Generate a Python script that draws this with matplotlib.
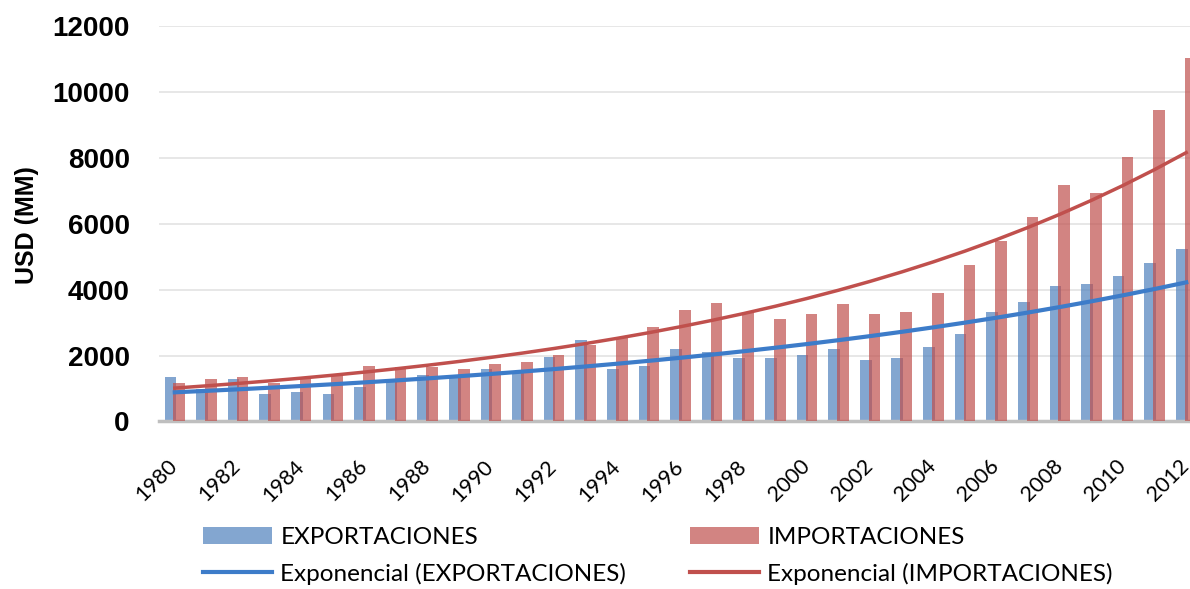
import numpy as np
import matplotlib
matplotlib.use("Agg")
import matplotlib.pyplot as plt
from matplotlib.patches import Patch
from matplotlib.lines import Line2D

years = list(range(1980, 2013))
exportaciones = [1339, 976, 1279, 833, 903, 833, 1054, 1206, 1409, 1358, 1582,
                 1460, 1964, 2470, 1582, 1682, 2197, 2097, 1915, 1915, 2024,
                 2197, 1864, 1915, 2257, 2642, 3327, 3612, 4115, 4176, 4400,
                 4803, 5248]
importaciones = [1176, 1279, 1339, 1157, 1309, 1409, 1682, 1650, 1642, 1582, 1742,
                 1812, 2015, 2318, 2551, 2873, 3378, 3600, 3297, 3097, 3267,
                 3551, 3267, 3327, 3885, 4733, 5490, 6218, 7176, 6945, 8024,
                 9448, 11023]
tick_years = years[::2]

BLUE = '#4F81BD'
RED = '#C0504D'
TREND_BLUE = '#3D7CC9'
txt_font = ['Lato', 'DejaVu Sans']

fig = plt.figure(figsize=(11.9, 5.89), dpi=100)
ax = fig.add_axes([0.1336, 0.2844, 0.8765, 0.6715])

x = np.arange(len(years))
ax.bar(x - 0.14, exportaciones, width=0.37, color=BLUE, alpha=0.7, zorder=2)
ax.bar(x + 0.14, importaciones, width=0.37, color=RED, alpha=0.7, zorder=3)

# exponential trendlines (least squares on log values, like Excel)
xt = x + 1
for vals, col, lw in [(exportaciones, TREND_BLUE, 3.0), (importaciones, RED, 2.5)]:
    b, a = np.polyfit(xt, np.log(vals), 1)
    ax.plot(x, np.exp(a + b * xt), color=col, linewidth=lw, zorder=4)

ax.set_xlim(-0.5, len(years) - 0.5)
ax.set_ylim(0, 12000)
ax.set_yticks(range(0, 12001, 2000))
ax.set_yticklabels([str(v) for v in range(0, 12001, 2000)],
                   fontsize=20, fontweight='bold', family='Liberation Sans')
# rotated labels anchored at their baseline end
ax.set_xticks([years.index(y) + 0.12 for y in tick_years])
ax.set_xticklabels([str(y) for y in tick_years], rotation=45, ha='right',
                   va='baseline', rotation_mode='anchor', fontsize=15.5,
                   family=txt_font)
ax.tick_params(axis='both', length=0)
ax.tick_params(axis='y', pad=21)
ax.tick_params(axis='x', pad=33)
ax.grid(axis='y', color='#E3E3E3', linewidth=1.2, zorder=0)
ax.set_axisbelow(True)
for s in ['top', 'right', 'left']:
    ax.spines[s].set_visible(False)
ax.spines['bottom'].set_color('#BFBFBF')
ax.spines['bottom'].set_linewidth(2.5)

fig.text(0.023, 0.618, 'USD (MM)', rotation=90, ha='center', va='center',
         fontsize=18, fontweight='bold', family='Liberation Sans')

# two legend columns placed separately
leg_kw = dict(loc='center left', frameon=False, prop={'family': txt_font, 'size': 17.5},
              handlelength=2.85, handleheight=0.7, handletextpad=0.33,
              labelspacing=0.6, borderpad=0, borderaxespad=0)
leg1 = fig.legend([Patch(facecolor=BLUE, alpha=0.7), Line2D([], [], color=TREND_BLUE, linewidth=3)],
                  ['EXPORTACIONES', 'Exponencial (EXPORTACIONES)'],
                  bbox_to_anchor=(203 / 1190, 1 - 556 / 589), **leg_kw)
leg2 = fig.legend([Patch(facecolor=RED, alpha=0.7), Line2D([], [], color=RED, linewidth=3)],
                  ['IMPORTACIONES', 'Exponencial (IMPORTACIONES)'],
                  bbox_to_anchor=(690 / 1190, 1 - 556 / 589), **leg_kw)

fig.savefig('out.png', dpi=100)
